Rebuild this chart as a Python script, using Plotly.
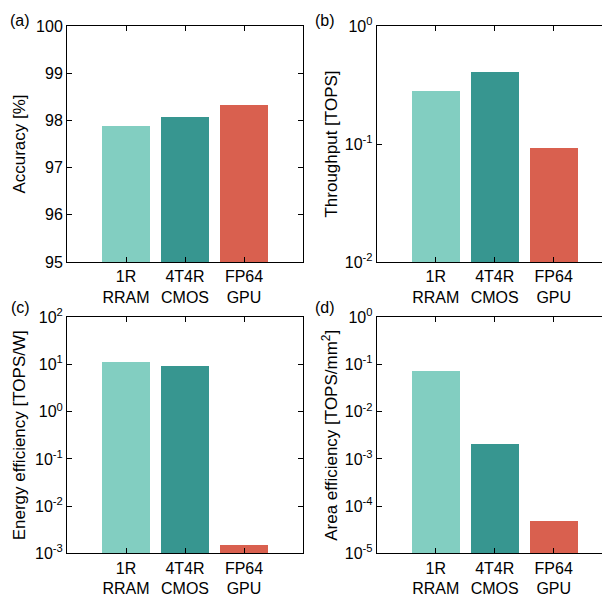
import plotly.graph_objects as go

categories = ["1R<br>RRAM", "4T4R<br>CMOS", "FP64<br>GPU"]
colors = ["#82CEC1", "#379690", "#D9604F"]

accuracy = [97.88, 98.07, 98.33]
throughput = [0.281, 0.408, 0.0925]
energy_eff = [11.3, 9.3, 0.0015]
area_eff = [0.0728, 0.00207, 4.7e-5]

# the page body has an 8px margin, so the figure is placed 8px in from the window corner
OFF = 8
W, H = 610 - OFF, 597 - OFF
FONT = "Liberation Sans, Arial, Helvetica, sans-serif"

def px_x(v):
    return (v - OFF) / W

def px_y(v):
    return 1 - (v - OFF) / H

panels = [
    dict(vals=accuracy, title="Accuracy [%]", log=False, rng=[95, 100], so=6,
         xdom=[px_x(67), px_x(303)], ydom=[px_y(262), px_y(26)], xr=[-1, 3], label="(a)", lx=8, ly=10),
    dict(vals=throughput, title="Throughput [TOPS]", log=True, rng=[-2, 0], so=2,
         xdom=[px_x(376.7), 1.0], ydom=[px_y(262), px_y(26)], xr=[-1, 2.954], label="(b)", lx=313, ly=10),
    dict(vals=energy_eff, title="Energy efficiency [TOPS/W]", log=True, rng=[-3, 2], so=5,
         xdom=[px_x(67), px_x(303)], ydom=[px_y(553.3), px_y(317.3)], xr=[-1, 3], label="(c)", lx=9, ly=297),
    dict(vals=area_eff, title="Area efficiency [TOPS/mm<sup>2</sup>]", log=True, rng=[-5, 0], so=2,
         xdom=[px_x(376.7), 1.0], ydom=[px_y(553.3), px_y(317.3)], xr=[-1, 2.954], label="(d)", lx=313, ly=297),
]

fig = go.Figure()
annotations = []
for i, p in enumerate(panels):
    n = "" if i == 0 else str(i + 1)
    fig.add_trace(go.Bar(
        x=[0, 1, 2], y=p["vals"], marker=dict(color=colors, line=dict(width=0)),
        width=0.81, xaxis="x" + n, yaxis="y" + n, showlegend=False,
    ))
    xa = dict(domain=p["xdom"], anchor="y" + n, range=p["xr"], automargin=False,
              tickmode="array", tickvals=[0, 1, 2], ticktext=categories,
              ticks="inside", ticklen=5, tickwidth=1, tickcolor="black",
              showline=True, linecolor="black", linewidth=1, mirror="ticks",
              showgrid=False, zeroline=False, fixedrange=True,
              tickfont=dict(family=FONT, size=16, color="black"))
    if p["log"]:
        lo, hi = p["rng"]
        tv = [10 ** e for e in range(lo, hi + 1)]
        tt = ["10<sup>%d</sup>" % e for e in range(lo, hi + 1)]
        ya = dict(type="log", range=[lo, hi], tickmode="array", tickvals=tv, ticktext=tt)
    else:
        ya = dict(range=p["rng"], tickmode="linear", tick0=95, dtick=1)
    ya.update(domain=p["ydom"], anchor="x" + n, automargin=False,
              ticks="inside", ticklen=5, tickwidth=1, tickcolor="black",
              showline=True, linecolor="black", linewidth=1, mirror="ticks",
              showgrid=False, zeroline=False, fixedrange=True,
              tickfont=dict(family=FONT, size=16, color="black"),
              title=dict(text=p["title"], font=dict(family=FONT, size=17, color="black"), standoff=p["so"]))
    fig.update_layout(**{"xaxis" + n: xa, "yaxis" + n: ya})
    annotations.append(dict(text=p["label"], x=px_x(p["lx"]), y=px_y(p["ly"]), xref="paper", yref="paper",
                            xanchor="left", yanchor="top", showarrow=False,
                            font=dict(family=FONT, size=16, color="black")))

fig.update_layout(width=W, height=H, margin=dict(l=0, r=0, t=0, b=0, autoexpand=False),
                  paper_bgcolor="white", plot_bgcolor="white", bargap=0,
                  annotations=annotations, font=dict(family=FONT, color="black"))
fig.write_html("out.html")
